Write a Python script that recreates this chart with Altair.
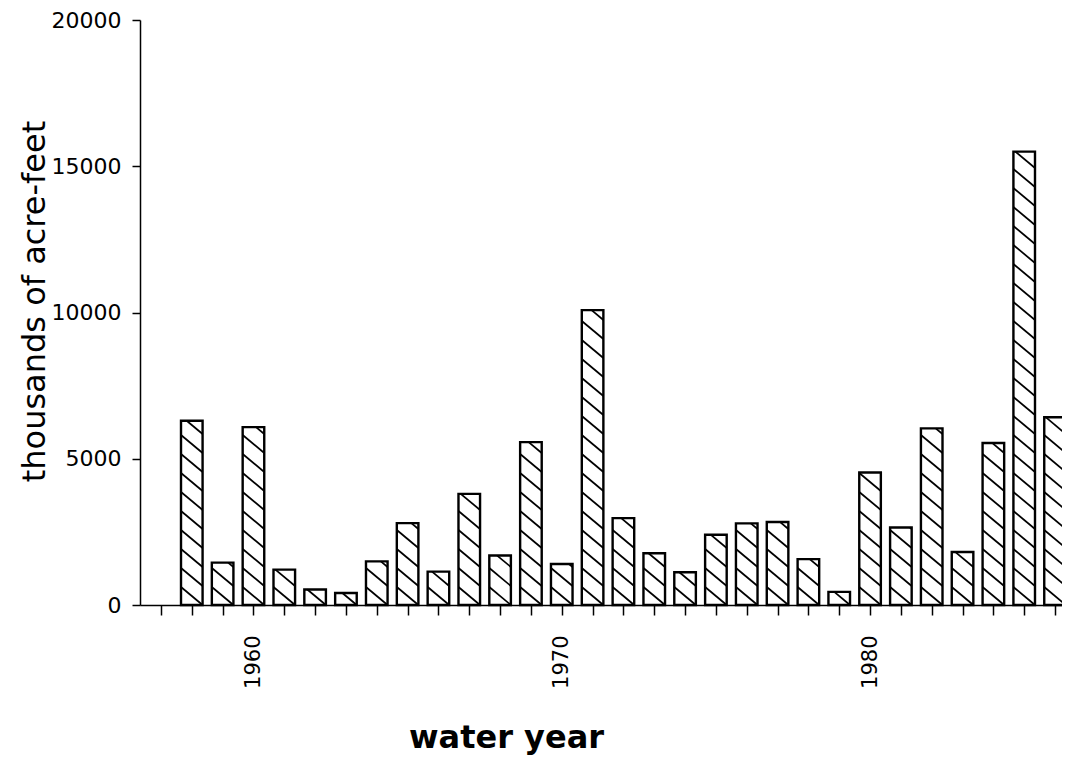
import altair as alt
import pandas as pd

years = list(range(1958, 1987))
values = [6300, 1450, 6080, 1210, 530, 410, 1490, 2800, 1140, 3800, 1690, 5570,
          1400, 10080, 2970, 1770, 1120, 2400, 2790, 2840, 1570, 450, 4530, 2650,
          6040, 1810, 5540, 15500, 6420]
tick_years = list(range(1957, 1987))
y_ticks = [0, 5000, 10000, 15000, 20000]

PLOT_W = 922
PLOT_H = 585
X_MIN, X_MAX = 1956.32, 1956.32 + PLOT_W / 30.83
Y_MAX = 20000
HALF = 0.35

bars = pd.DataFrame({"year": years, "value": values})

# hatch pattern ("\" lines) derived from each bar's extent
px_per_unit = PLOT_H / Y_MAX
D = 18 / px_per_unit        # drop across bar width
S = 19 / px_per_unit        # spacing between lines
W = 2 * HALF
k = D / W
rows = []
for yr, v in zip(years, values):
    x0, x1 = yr - HALF, yr + HALF
    for j in range(-3, 200):
        c = D + j * S
        if c <= 0 or c >= v + D:
            continue
        if c > v:
            xs, ys = x0 + (c - v) / k, v
        else:
            xs, ys = x0, c
        if c - D < 0:
            xe, ye = x0 + c / k, 0
        else:
            xe, ye = x1, c - D
        if xe - xs > 0.01:
            rows.append({"xa": xs, "xb": xe, "ya": ys, "yb": ye})
hatch = pd.DataFrame(rows)

xscale = alt.Scale(domain=[X_MIN, X_MAX], nice=False, zero=False)
yscale = alt.Scale(domain=[0, Y_MAX], nice=False)

xaxis = alt.Axis(
    values=tick_years, tickCount=100,
    labelExpr="datum.value % 10 == 0 ? datum.value : ''",
    labelAngle=-90, labelFontSize=21, labelFont="DejaVu Sans", labelColor="black",
    labelPadding=20, tickSize=10, tickColor="black", tickWidth=1.5,
    domainColor="black", domainWidth=1.5, grid=False, labelOverlap=False,
    labelFlush=False,
    title="water year", titleFont="DejaVu Sans", titleFontSize=32,
    titleFontWeight="bold", titleColor="black", titleX=366, titleY=142,
    titleBaseline="alphabetic", titleAnchor="middle", titleAlign="center",
)
yaxis = alt.Axis(
    values=y_ticks, tickCount=10, format="d", labelFontSize=22,
    labelFont="DejaVu Sans",
    labelColor="black", labelPadding=11, tickSize=8, tickColor="black",
    tickWidth=1.5, domainColor="black", domainWidth=1.5, grid=False,
    title="thousands of acre-feet", titleFont="DejaVu Sans", titleFontSize=32,
    titleFontWeight="normal", titleColor="black", titleAngle=270,
    titleX=-96, titleY=281, titleBaseline="alphabetic", titleAlign="center",
)

bar_layer = alt.Chart(bars).transform_calculate(
    x0=f"datum.year - {HALF}", x1=f"datum.year + {HALF}"
).mark_bar(fill="white", stroke="black", strokeWidth=2.4).encode(
    x=alt.X("x0:Q", scale=xscale, axis=xaxis),
    x2="x1:Q",
    y=alt.Y("value:Q", scale=yscale, axis=yaxis),
    y2=alt.datum(0),
)

hatch_layer = alt.Chart(hatch).mark_rule(color="black", strokeWidth=1.7).encode(
    x=alt.X("xa:Q", scale=xscale),
    x2="xb:Q",
    y=alt.Y("ya:Q", scale=yscale),
    y2="yb:Q",
)

chart = alt.layer(bar_layer, hatch_layer).properties(
    width=PLOT_W, height=PLOT_H,
    autosize=alt.AutoSizeParams(type="none"),
    padding={"left": 132, "top": 12, "right": 0, "bottom": 152},
    background="white",
).configure_view(stroke=None)

chart.save("out.html", embed_options={"renderer": "svg", "actions": False})
